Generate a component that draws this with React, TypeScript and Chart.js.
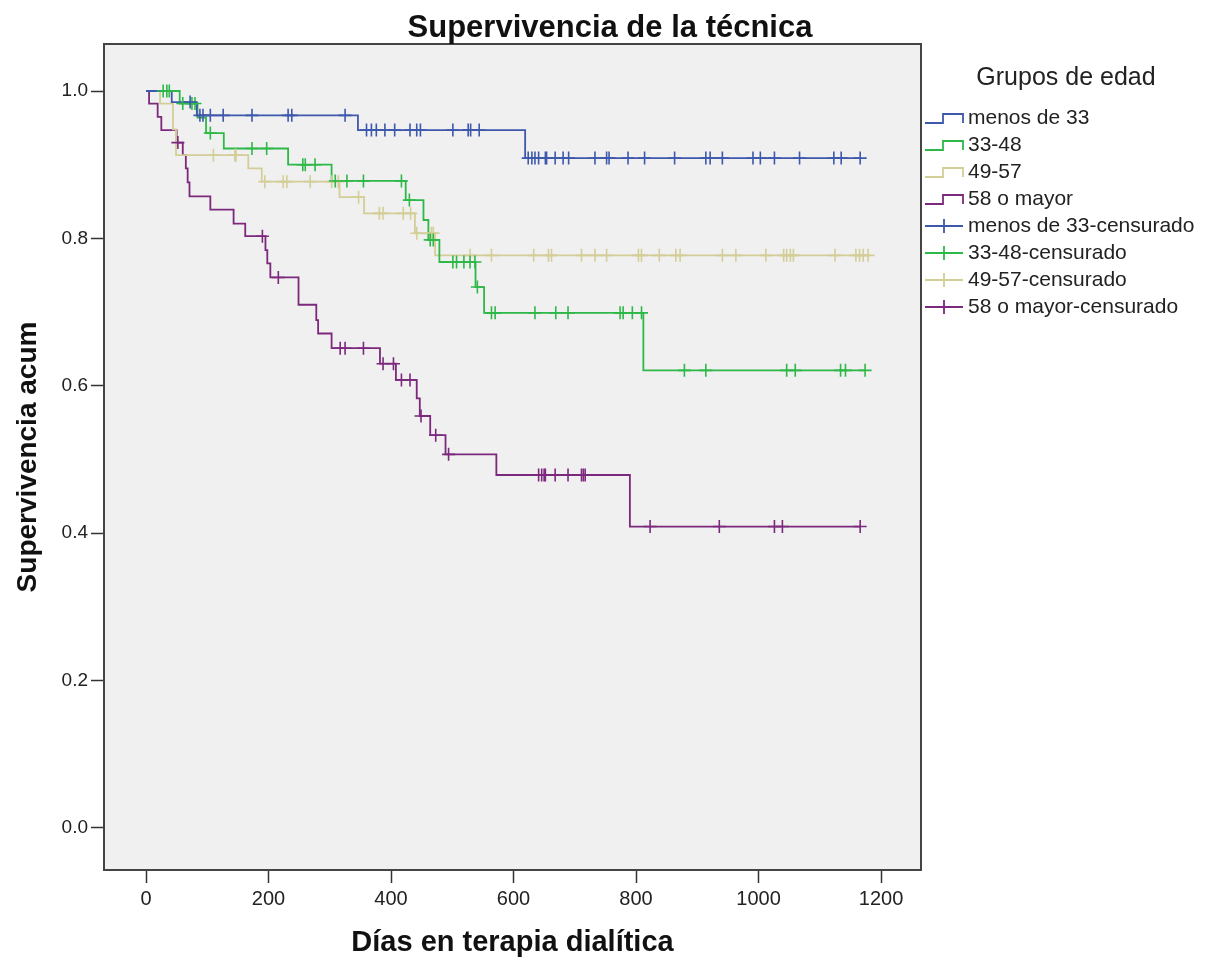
import React, { useEffect, useRef } from "react";
import { Chart, registerables } from "chart.js";

Chart.register(...registerables);

const FONT = "'Liberation Sans', Arial, Helvetica, sans-serif";

const chartTitle = "Supervivencia de la técnica";
const xAxisTitle = "Días en terapia dialítica";
const yAxisTitle = "Supervivencia acum";
const legendTitle = "Grupos de edad";

const groupLabels = ["menos de 33", "33-48", "49-57", "58 o mayor"];
const censorLabels = groupLabels.map((l) => l + "-censurado");
const groupColors = ["#3e58ac", "#2eb848", "#d3ce97", "#7c287d"];

const xTicks = [0, 200, 400, 600, 800, 1000, 1200];
const yTicks = [0, 0.2, 0.4, 0.6, 0.8, 1.0];

// menos de 33
const blueEventDays = [42, 83, 346, 619];
const blueSurvival = [0.985, 0.967, 0.947, 0.909];
const blueCensorDays = [
  72, 88, 93, 105, 126, 173, 232, 238, 325, 360, 368, 376, 390, 406, 431, 442, 448, 501, 526, 530, 544,
  624, 630, 635, 641, 652, 654, 668, 681, 690, 733, 752, 756, 787, 814, 863, 914, 921, 941, 991, 1003,
  1026, 1067, 1123, 1135, 1166,
];

// 33-48
const greenEventDays = [55, 84, 98, 127, 232, 303, 424, 453, 461, 479, 538, 552, 812];
const greenSurvival = [0.983, 0.964, 0.943, 0.922, 0.9, 0.878, 0.852, 0.825, 0.798, 0.768, 0.734, 0.699, 0.621];
const greenCensorDays = [
  28, 34, 38, 60, 75, 80, 105, 173, 197, 256, 260, 276, 309, 328, 355, 417, 430, 464, 469, 501, 507, 519,
  529, 537, 541, 564, 570, 635, 669, 689, 774, 779, 794, 809, 879, 914, 1046, 1060, 1134, 1142, 1174,
];

// 49-57
const tanEventDays = [23, 44, 49, 167, 189, 316, 356, 439, 472];
const tanSurvival = [0.983, 0.948, 0.913, 0.895, 0.877, 0.856, 0.834, 0.807, 0.777];
const tanCensorDays = [
  110, 145, 147, 194, 224, 230, 268, 303, 314, 347, 381, 387, 420, 432, 442, 466, 469, 529, 564, 633, 657,
  662, 711, 733, 752, 804, 809, 838, 865, 872, 941, 963, 1012, 1041, 1046, 1052, 1057, 1125, 1159, 1165,
  1171, 1179,
];

// 58 o mayor
const purpleEventDays = [
  5, 19, 25, 50, 60, 65, 68, 71, 105, 143, 162, 195, 198, 203, 249, 278, 281, 303, 382, 408, 442, 447, 464,
  489, 572, 790,
];
const purpleSurvival = [
  0.983, 0.965, 0.947, 0.93, 0.913, 0.895, 0.876, 0.857, 0.839, 0.82, 0.803, 0.784, 0.766, 0.747, 0.71,
  0.689, 0.671, 0.651, 0.63, 0.608, 0.583, 0.559, 0.533, 0.507, 0.479, 0.409,
];
const purpleCensorDays = [
  52, 190, 216, 317, 325, 355, 387, 404, 417, 431, 449, 473, 494, 641, 646, 650, 652, 668, 689, 711, 714,
  717, 823, 936, 1026, 1039, 1166,
];

const groups = [
  { days: blueEventDays, surv: blueSurvival, censor: blueCensorDays },
  { days: greenEventDays, surv: greenSurvival, censor: greenCensorDays },
  { days: tanEventDays, surv: tanSurvival, censor: tanCensorDays },
  { days: purpleEventDays, surv: purpleSurvival, censor: purpleCensorDays },
];

function survivalAt(days: number[], surv: number[], t: number): number {
  let v = 1;
  for (let i = 0; i < days.length; i++) if (days[i] <= t) v = surv[i];
  return v;
}

function curvePoints(days: number[], surv: number[], censor: number[]) {
  const pts = [{ x: 0, y: 1 }];
  days.forEach((d, i) => pts.push({ x: d, y: surv[i] }));
  const end = Math.max(...censor, ...days);
  pts.push({ x: end, y: survivalAt(days, surv, end) });
  return pts;
}

const frame = {
  id: "spssFrame",
  beforeDraw(chart: any) {
    const { ctx, chartArea: a, width, height } = chart;
    ctx.save();
    ctx.fillStyle = "#ffffff";
    ctx.fillRect(0, 0, width, height);
    ctx.fillStyle = "#f0f0f0";
    ctx.fillRect(a.left, a.top, a.right - a.left, a.bottom - a.top);
    ctx.restore();
  },
  afterDraw(chart: any) {
    const { ctx, chartArea: a } = chart;
    ctx.save();
    ctx.strokeStyle = "#444444";
    ctx.lineWidth = 2;
    ctx.strokeRect(a.left, a.top, a.right - a.left, a.bottom - a.top);

    // title
    ctx.fillStyle = "#111111";
    ctx.font = `bold 31px ${FONT}`;
    ctx.textAlign = "center";
    ctx.textBaseline = "middle";
    ctx.fillText(chartTitle, 610, 28);

    // legend
    ctx.font = `25px ${FONT}`;
    ctx.fillStyle = "#222222";
    ctx.fillText(legendTitle, 1066, 78);
    ctx.textAlign = "left";
    ctx.font = `21px ${FONT}`;
    const allLabels = [...groupLabels, ...censorLabels];
    allLabels.forEach((label, i) => {
      const y = 118 + i * 27;
      const color = groupColors[i % 4];
      ctx.strokeStyle = color;
      ctx.lineWidth = 1.8;
      ctx.beginPath();
      if (i < 4) {
        ctx.moveTo(925, y + 5);
        ctx.lineTo(943, y + 5);
        ctx.lineTo(943, y - 4);
        ctx.lineTo(963, y - 4);
        ctx.lineTo(963, y + 5);
      } else {
        ctx.moveTo(925, y);
        ctx.lineTo(963, y);
        ctx.moveTo(944, y - 7);
        ctx.lineTo(944, y + 7);
      }
      ctx.stroke();
      ctx.fillStyle = "#222222";
      ctx.fillText(label, 968, y);
    });
    ctx.restore();
  },
};

export default function App() {
  const ref = useRef<HTMLCanvasElement | null>(null);

  useEffect(() => {
    document.body.style.margin = "0";
    const canvas = ref.current;
    if (!canvas) return;

    const lineSets = groups.map((g, i) => ({
      type: "line" as const,
      label: groupLabels[i],
      data: curvePoints(g.days, g.surv, g.censor),
      borderColor: groupColors[i],
      borderWidth: 1.8,
      stepped: "before" as const,
      pointRadius: 0,
      fill: false,
      tension: 0,
    }));
    const censorSets = groups.map((g, i) => ({
      type: "scatter" as const,
      label: censorLabels[i],
      data: g.censor.map((d) => ({ x: d, y: survivalAt(g.days, g.surv, d) })),
      borderColor: groupColors[i],
      backgroundColor: groupColors[i],
      pointStyle: "cross" as const,
      pointRadius: 6.5,
      pointBorderWidth: 1.6,
      showLine: false,
    }));

    const chart = new Chart(canvas, {
      type: "line",
      data: { datasets: [...censorSets, ...lineSets] as any },
      plugins: [frame],
      options: {
        responsive: false,
        animation: false,
        devicePixelRatio: 1,
        layout: { padding: { top: 44, right: 288, left: 0, bottom: 0 } },
        plugins: { legend: { display: false }, tooltip: { enabled: false }, title: { display: false } },
        scales: {
          x: {
            type: "linear",
            min: -68.6,
            max: 1265.3,
            afterFit: (s: any) => {
              s.height = 90;
            },
            afterBuildTicks: (s: any) => {
              s.ticks = xTicks.map((v) => ({ value: v }));
            },
            grid: { drawOnChartArea: false, drawTicks: true, tickLength: 13, tickColor: "#333333", tickWidth: 1.5 },
            border: { display: false },
            ticks: {
              color: "#222222",
              font: { family: FONT, size: 20 },
              padding: 4,
              maxRotation: 0,
              callback: (v: any) => String(v),
            },
            title: {
              display: true,
              text: xAxisTitle,
              color: "#111111",
              font: { family: FONT, size: 29, weight: "bold" },
              padding: { top: 0, bottom: 0 },
            },
          },
          y: {
            type: "linear",
            min: -0.057,
            max: 1.0638,
            afterFit: (s: any) => {
              s.width = 104;
            },
            afterBuildTicks: (s: any) => {
              s.ticks = yTicks.map((v) => ({ value: v }));
            },
            grid: { drawOnChartArea: false, drawTicks: true, tickLength: 13, tickColor: "#333333", tickWidth: 1.5 },
            border: { display: false },
            ticks: {
              color: "#222222",
              font: { family: FONT, size: 19 },
              padding: 3,
              callback: (v: any) => Number(v).toFixed(1),
            },
            title: {
              display: true,
              text: yAxisTitle,
              color: "#111111",
              font: { family: FONT, size: 28, weight: "bold" },
              padding: { top: 11, bottom: 0 },
            },
          },
        },
      } as any,
    });
    return () => chart.destroy();
  }, []);

  return <canvas ref={ref} width={1209} height={960} style={{ display: "block" }} />;
}
